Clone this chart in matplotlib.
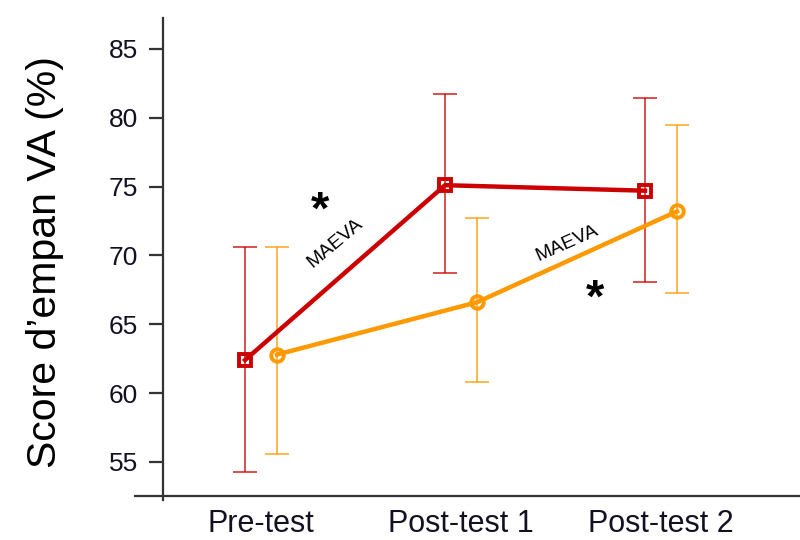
import numpy as np
import matplotlib.pyplot as plt

plt.rcParams['font.family'] = ['Liberation Sans', 'DejaVu Sans']

sessions = ["Pre-test", "Post-test 1", "Post-test 2"]

# group means with lower/upper bounds of the error bars
red_mean = [62.4, 75.1, 74.7]
red_low = [54.3, 68.7, 68.1]
red_high = [70.6, 81.7, 81.4]

orange_mean = [62.8, 66.6, 73.2]
orange_low = [55.6, 60.8, 67.3]
orange_high = [70.6, 72.7, 79.5]

yticks = [55, 60, 65, 70, 75, 80, 85]

red = '#cc0000'
orange = '#ff9900'
offset = 0.08


def draw_group(ax, means, low, high, color, dx, marker):
    x = np.arange(len(means)) + dx
    means = np.asarray(means)
    yerr = [means - np.asarray(low), np.asarray(high) - means]
    ax.errorbar(x, means, yerr=yerr, fmt='none', ecolor=color, elinewidth=1.3,
                capsize=8.5, capthick=1.3, alpha=0.75, zorder=2)
    ax.plot(x, means, color=color, lw=3.2, marker=marker, ms=9, mfc='none',
            mec=color, mew=2.8, zorder=3)


fig = plt.figure(figsize=(8, 5.4), dpi=100)
ax = fig.add_axes([135 / 800, 1 - 500 / 540, 665 / 800, 482 / 540])

draw_group(ax, red_mean, red_low, red_high, red, -offset, 's')
draw_group(ax, orange_mean, orange_low, orange_high, orange, offset, 'o')

ax.set_xlim(-0.63, 2.695)
ax.set_ylim(52.24, 87.24)

for side in ['top', 'right']:
    ax.spines[side].set_visible(False)
ax.spines['left'].set_position(('data', -0.49))
ax.spines['bottom'].set_position(('data', 52.5))
for side in ['left', 'bottom']:
    ax.spines[side].set_linewidth(1.6)
    ax.spines[side].set_color('#333333')

ax.set_yticks(yticks)
ax.set_xticks(range(len(sessions)))
ax.set_xticklabels(sessions)
ax.tick_params(axis='y', length=10, width=1.6, color='#333333', pad=8,
               labelsize=19, labelcolor='#111122')
ax.tick_params(axis='x', length=0, pad=9, labelsize=22, labelcolor='#111122')

# significance marks and condition labels
ax.text(0.295, 73.2, '*', fontsize=34, fontweight='bold', ha='center', va='center')
ax.text(1.67, 66.8, '*', fontsize=34, fontweight='bold', ha='center', va='center')
ax.text(0.37, 70.9, 'MAEVA', fontsize=14, rotation=40, ha='center', va='center')
ax.text(1.53, 70.9, 'MAEVA', fontsize=14, rotation=24, ha='center', va='center')

fig.text(45 / 800, 1 - 262 / 540, "Score d\u2019empan VA (%)", rotation=90,
         fontsize=29.5, ha='center', va='center')

fig.savefig('out.png', dpi=100)
